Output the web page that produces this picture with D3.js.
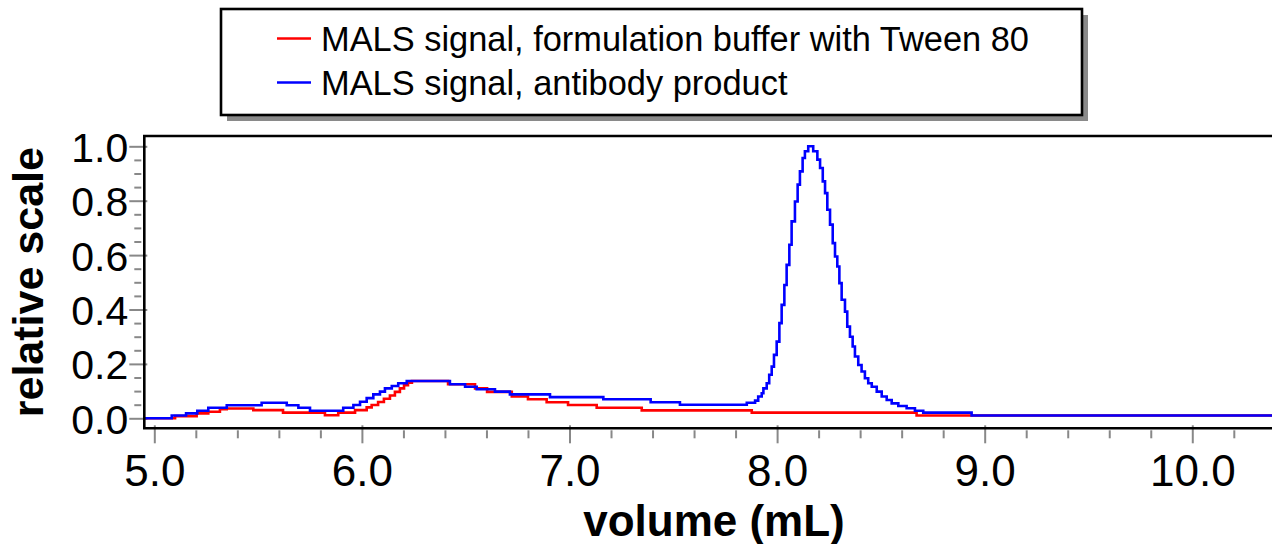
<!DOCTYPE html>
<html>
<head>
<meta charset="utf-8">
<script src="https://cdn.jsdelivr.net/npm/d3@7"></script>
<style>
  html, body { margin: 0; padding: 0; background: #fff; }
  svg { display: block; font-family: "Liberation Sans", Arial, sans-serif; }
</style>
</head>
<body>
<svg id="chart" width="1272" height="544"></svg>
<script>
// ---- data ----
const seriesNames = ["MALS signal, formulation buffer with Tween 80", "MALS signal, antibody product"];
const seriesColors = ["#ff0000", "#0000ff"];

const redX = [4.95, 5.100, 5.204, 5.260, 5.316, 5.349, 5.477, 5.620, 5.822, 5.886, 5.967, 6.023, 6.047, 6.078, 6.106, 6.135, 6.159, 6.183, 6.203, 6.222, 6.241, 6.415, 6.545, 6.603, 6.722, 6.800, 6.890, 6.993, 7.131, 7.348, 7.878, 8.672, 10.4];
const redY = [0.0, 0.008, 0.018, 0.024, 0.033, 0.036, 0.03, 0.021, 0.011, 0.021, 0.03, 0.04, 0.049, 0.06, 0.072, 0.084, 0.097, 0.11, 0.122, 0.131, 0.137, 0.125, 0.11, 0.097, 0.08, 0.07, 0.059, 0.049, 0.039, 0.029, 0.021, 0.01, 0.01];

const blueX = [4.95, 5.084, 5.153, 5.207, 5.260, 5.349, 5.517, 5.638, 5.694, 5.750, 5.910, 5.959, 5.991, 6.023, 6.055, 6.087, 6.111, 6.144, 6.175, 6.216, 6.424, 6.497, 6.553, 6.641, 6.713, 6.906, 7.163, 7.391, 7.532, 7.854, 7.894, 7.909, 7.926, 7.934, 7.950, 7.962, 7.974, 7.985, 7.998, 8.011, 8.022, 8.035, 8.046, 8.059, 8.070, 8.086, 8.099, 8.110, 8.123, 8.134, 8.150, 8.174, 8.194, 8.207, 8.220, 8.231, 8.242, 8.255, 8.268, 8.279, 8.290, 8.300, 8.311, 8.327, 8.338, 8.351, 8.364, 8.375, 8.391, 8.407, 8.423, 8.439, 8.456, 8.480, 8.504, 8.528, 8.552, 8.584, 8.624, 8.664, 8.704, 8.937, 10.4];
const blueY = [0.0, 0.01, 0.018, 0.028, 0.039, 0.048, 0.057, 0.048, 0.039, 0.028, 0.039, 0.049, 0.061, 0.074, 0.088, 0.098, 0.11, 0.119, 0.129, 0.137, 0.125, 0.116, 0.107, 0.098, 0.088, 0.078, 0.07, 0.059, 0.05, 0.057, 0.065, 0.08, 0.092, 0.11, 0.129, 0.16, 0.19, 0.233, 0.282, 0.35, 0.417, 0.49, 0.564, 0.638, 0.724, 0.797, 0.859, 0.908, 0.957, 0.982, 1.0, 0.982, 0.951, 0.92, 0.871, 0.828, 0.767, 0.712, 0.644, 0.595, 0.558, 0.497, 0.436, 0.392, 0.337, 0.3, 0.264, 0.227, 0.196, 0.172, 0.147, 0.129, 0.116, 0.098, 0.08, 0.067, 0.055, 0.045, 0.037, 0.028, 0.021, 0.01, 0.01];

const xTickValues = [5, 6, 7, 8, 9, 10];
const xTickLabels = ["5.0", "6.0", "7.0", "8.0", "9.0", "10.0"];
const yTickValues = [0, 0.2, 0.4, 0.6, 0.8, 1.0];
const yTickLabels = ["0.0", "0.2", "0.4", "0.6", "0.8", "1.0"];
const xTitle = "volume (mL)";
const yTitle = "relative scale";

// ---- layout ----
const plot = { left: 144.3, right: 1272, top: 136, bottom: 428.3 };
const svg = d3.select("#chart");

const x = d3.scaleLinear().domain([4.9518, 10.384]).range([plot.left, plot.right]);
const y = d3.scaleLinear().domain([-0.0368, 1.0379]).range([plot.bottom, plot.top]);

// clip
svg.append("defs").append("clipPath").attr("id", "clip")
  .append("rect").attr("x", plot.left).attr("y", plot.top - 2)
  .attr("width", plot.right - plot.left + 10).attr("height", plot.bottom - plot.top + 4);

// minor ticks x (every 0.2)
const xMinor = d3.range(5, 10.4, 0.2).map(v => +v.toFixed(2)).filter(v => Math.abs(v - Math.round(v)) > 1e-6);
const xAxisMinor = d3.axisBottom(x).tickValues(xMinor).tickSize(0).tickFormat("");
const gxm = svg.append("g").attr("transform", `translate(0,${plot.bottom})`).call(xAxisMinor);
gxm.select(".domain").remove();
gxm.selectAll(".tick line").remove();
gxm.selectAll(".tick").append("line").attr("y1", 2).attr("y2", 10)
  .attr("stroke", "#888").attr("stroke-width", 2);

// major ticks x
const xAxis = d3.axisBottom(x).tickValues(xTickValues).tickSize(0)
  .tickFormat((d, i) => xTickLabels[i]);
const gx = svg.append("g").attr("transform", `translate(0,${plot.bottom})`).call(xAxis);
gx.select(".domain").remove();
gx.selectAll(".tick").append("line").attr("y1", -3).attr("y2", 15)
  .attr("stroke", "#888").attr("stroke-width", 2);
gx.selectAll(".tick text").attr("y", 58).attr("dy", 0)
  .attr("font-size", 44).attr("fill", "#000")
  .attr("font-family", "'Liberation Sans', Arial, sans-serif");

// minor ticks y (every 0.05)
const yMinor = d3.range(0, 1.0001, 0.05).map(v => +v.toFixed(2)).filter(v => Math.abs(v * 5 - Math.round(v * 5)) > 1e-6);
const yAxisMinor = d3.axisLeft(y).tickValues(yMinor).tickSize(0).tickFormat("");
const gym = svg.append("g").attr("transform", `translate(${plot.left},0)`).call(yAxisMinor);
gym.select(".domain").remove();
gym.selectAll(".tick").append("line").attr("x1", -3).attr("x2", -10)
  .attr("stroke", "#888").attr("stroke-width", 2);

// major ticks y
const yAxis = d3.axisLeft(y).tickValues(yTickValues).tickSize(0)
  .tickFormat((d, i) => yTickLabels[i]);
const gy = svg.append("g").attr("transform", `translate(${plot.left},0)`).call(yAxis);
gy.select(".domain").remove();
gy.selectAll(".tick").append("line").attr("x1", -15).attr("x2", 3)
  .attr("stroke", "#888").attr("stroke-width", 2);
gy.selectAll(".tick text").attr("x", -16).attr("dy", 15)
  .attr("font-size", 41).attr("fill", "#000")
  .attr("font-family", "'Liberation Sans', Arial, sans-serif");

// lines
const line = d3.line().x(d => x(d[0])).y(d => y(d[1])).curve(d3.curveStepAfter);
const series = [
  { xs: redX, ys: redY, color: seriesColors[0] },
  { xs: blueX, ys: blueY, color: seriesColors[1] }
];
const gLines = svg.append("g").attr("clip-path", "url(#clip)");
series.forEach(s => {
  const pts = s.xs.map((v, i) => [v, s.ys[i]]);
  gLines.append("path").datum(pts).attr("d", line)
    .attr("fill", "none").attr("stroke", s.color).attr("stroke-width", 2.6)
    .attr("stroke-linejoin", "miter");
});

// frame (left, top, bottom)
svg.append("path")
  .attr("d", `M${plot.right + 5},${plot.top} L${plot.left},${plot.top} L${plot.left},${plot.bottom} L${plot.right + 5},${plot.bottom}`)
  .attr("fill", "none").attr("stroke", "#000").attr("stroke-width", 2.6);

// axis titles
svg.append("text").attr("transform", `translate(43,${(plot.top + plot.bottom) / 2}) rotate(-90)`)
  .attr("text-anchor", "middle").attr("font-size", 43).attr("font-weight", "bold")
  .attr("fill", "#000").text(yTitle);
svg.append("text").attr("x", 714).attr("y", 536)
  .attr("text-anchor", "middle").attr("font-size", 44).attr("font-weight", "bold")
  .attr("fill", "#000").text(xTitle);

// legend
const lg = { x: 221, y: 9, w: 861, h: 106 };
svg.append("rect").attr("x", lg.x + 6).attr("y", lg.y + 6).attr("width", lg.w).attr("height", lg.h)
  .attr("fill", "#8a8a8a");
svg.append("rect").attr("x", lg.x).attr("y", lg.y).attr("width", lg.w).attr("height", lg.h)
  .attr("fill", "#fff").attr("stroke", "#000").attr("stroke-width", 2.6);
const legendRows = [38.5, 82.5];
seriesNames.forEach((name, i) => {
  svg.append("line").attr("x1", 277).attr("x2", 311)
    .attr("y1", legendRows[i]).attr("y2", legendRows[i])
    .attr("stroke", seriesColors[i]).attr("stroke-width", 2.6);
  svg.append("text").attr("x", 321).attr("y", legendRows[i] + 12.5)
    .attr("font-size", 34.4).attr("fill", "#000").text(name);
});
</script>
</body>
</html>
